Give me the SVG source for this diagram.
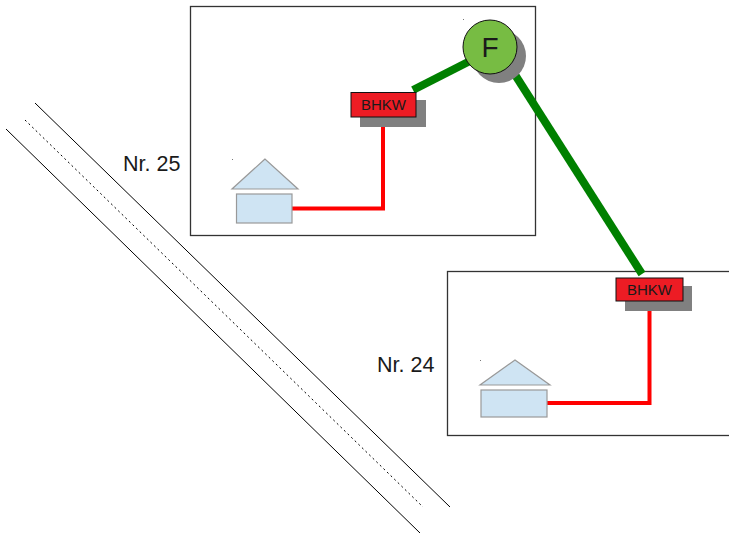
<svg xmlns="http://www.w3.org/2000/svg" width="729" height="533" viewBox="0 0 729 533">
<style>
.plot{fill:#fff;stroke:#333;stroke-width:1.3}
.road{stroke:#000;stroke-width:1;fill:none}
.roof,.body{fill:#cfe4f3;stroke:#999;stroke-width:1.2}
.shadow{fill:#808080}
.bhkw{fill:#ed1c24;stroke:#111;stroke-width:1}
.lbl{font-family:"Liberation Sans",Arial,sans-serif;fill:#1a1a1a}
.heat{stroke:#ff0000;stroke-width:4;fill:none}
.gas{stroke:#008000;stroke-width:8;fill:none}
.dot{fill:#777}
</style>
<rect width="729" height="533" fill="#fff"/>
<g id="road">
<line class="road" x1="35" y1="103" x2="450" y2="507"/>
<line class="road" x1="6" y1="129" x2="420" y2="533"/>
<line class="road" x1="25" y1="120" x2="423" y2="507" stroke-dasharray="2,3"/>
</g>
<g id="plot25">
<rect class="plot" x="190.5" y="6.5" width="345" height="229"/>
<rect class="dot" x="463" y="19" width="1" height="1"/>
</g>
<g id="plot24">
<rect class="plot" x="447.5" y="271.5" width="290" height="164"/>
</g>
<g id="label25"><text class="lbl" x="123" y="171" font-size="21.5">Nr. 25</text></g>
<g id="label24"><text class="lbl" x="377" y="372" font-size="21.5">Nr. 24</text></g>
<g id="connectors">
<polyline class="heat" points="383,117 383,208.5 292,208.5"/>
<polyline class="heat" points="649.5,301 649.5,403 547,403"/>
<line class="gas" x1="413" y1="90" x2="470" y2="61"/>
<line class="gas" x1="512" y1="70" x2="642" y2="274"/>
</g>
<g id="house25">
<rect class="dot" x="232" y="159" width="1" height="1"/>
<polygon class="roof" points="265,159 232,189 298,189"/>
<rect class="body" x="236.5" y="194" width="55.5" height="29"/>
</g>
<g id="house24">
<rect class="dot" x="480" y="360" width="1" height="1"/>
<polygon class="roof" points="515,360 480,385 550,385"/>
<rect class="body" x="481" y="390" width="66" height="27"/>
</g>
<g id="bhkw25">
<rect class="shadow" x="360" y="100" width="66" height="27"/>
<rect class="bhkw" x="351" y="92.5" width="65" height="24.5"/>
<text class="lbl" x="383.5" y="110" font-size="15" text-anchor="middle">BHKW</text>
</g>
<g id="bhkw24">
<rect class="shadow" x="625" y="286" width="67" height="25"/>
<rect class="bhkw" x="616" y="278" width="67" height="23"/>
<text class="lbl" x="649.5" y="295" font-size="15" text-anchor="middle">BHKW</text>
</g>
<g id="F">
<circle class="shadow" cx="499" cy="56" r="27"/>
<circle cx="490" cy="47" r="27" fill="#77bc43" stroke="#111" stroke-width="1"/>
<text class="lbl" x="490" y="57" font-size="28" text-anchor="middle">F</text>
</g>
</svg>
